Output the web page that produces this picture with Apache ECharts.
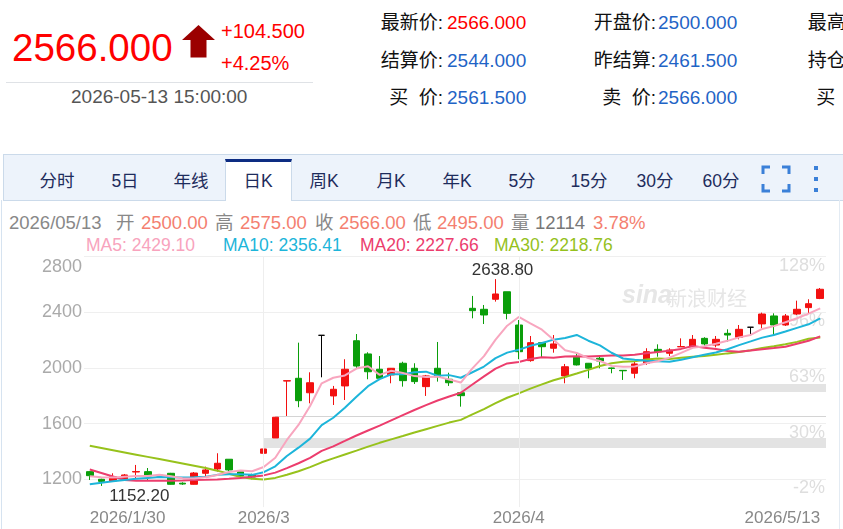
<!DOCTYPE html>
<html><head><meta charset="utf-8">
<script src="https://cdn.jsdelivr.net/npm/echarts@6/dist/echarts.min.js"></script>
<style>
html,body{margin:0;padding:0;background:#fff;}
body{width:843px;height:529px;overflow:hidden;position:relative;font-family:"Liberation Sans",Arial,"Noto Sans CJK SC",sans-serif;}
.a{position:absolute;white-space:pre;}
.lbl{position:absolute;white-space:pre;text-align:right;color:#111;font-size:19px;line-height:19px;}
.val{position:absolute;white-space:pre;color:#1f64c6;font-size:19px;line-height:19px;}
.tab{position:absolute;width:70px;text-align:center;font-size:17.5px;line-height:18px;top:172px;color:#1e2c5c;}
.inf{position:absolute;white-space:pre;font-size:18.5px;line-height:19px;top:212.5px;color:#888;}
.inf.n{color:#f47f70;}
.ma{position:absolute;white-space:pre;font-size:17.5px;line-height:18px;top:236px;}
#chart{position:absolute;left:0;top:0;width:843px;height:529px;}
</style></head><body>
<div class="a" style="left:12px;top:27.5px;font-size:38.5px;line-height:39px;color:#f00;">2566.000</div>
<svg class="a" style="left:182px;top:25px" width="34" height="34"><polygon points="16.5,0 33,15 24.5,15 24.5,32.5 8.5,32.5 8.5,15 0,15" fill="#9b0000"/></svg>
<div class="a" style="left:221px;top:21px;font-size:20px;line-height:20px;color:#f00;">+104.500</div>
<div class="a" style="left:221px;top:53px;font-size:20px;line-height:20px;color:#f00;">+4.25%</div>
<div class="a" style="left:6px;top:82px;width:307px;height:1px;background:#dfe2e6;"></div>
<div class="a" style="left:71px;top:87px;font-size:19px;line-height:19px;color:#555;">2026-05-13 15:00:00</div>

<div class="lbl" style="left:330px;width:113px;top:13px;">最新价:</div>
<div class="val" style="left:447px;top:13px;color:#f00;">2566.000</div>
<div class="lbl" style="left:330px;width:113px;top:51px;">结算价:</div>
<div class="val" style="left:447px;top:51px;">2544.000</div>
<div class="lbl" style="left:330px;width:113px;top:88px;">买  价:</div>
<div class="val" style="left:447px;top:88px;">2561.500</div>
<div class="lbl" style="left:540px;width:116px;top:13px;">开盘价:</div>
<div class="val" style="left:658px;top:13px;">2500.000</div>
<div class="lbl" style="left:540px;width:116px;top:51px;">昨结算:</div>
<div class="val" style="left:658px;top:51px;">2461.500</div>
<div class="lbl" style="left:540px;width:116px;top:88px;">卖  价:</div>
<div class="val" style="left:658px;top:88px;">2566.000</div>
<div class="lbl" style="left:760px;width:110px;top:13px;">最高价:</div>
<div class="lbl" style="left:760px;width:110px;top:51px;">持仓量:</div>
<div class="lbl" style="left:760px;width:110px;top:88px;">买  量:</div>

<div class="a" style="left:3px;top:154px;width:860px;height:45px;background:#edf3fb;border:1px solid #cbdaea;"></div>
<div class="a" style="left:225px;top:159px;width:65px;height:39px;background:#fff;border-top:3px solid #0d2c82;border-left:1px solid #cbdaea;border-right:1px solid #cbdaea;"></div>
<div id="tabs"></div>
<svg class="a" style="left:761px;top:165px" width="30" height="28"><g fill="none" stroke="#3b80d8" stroke-width="3"><path d="M2 9V2H9"/><path d="M21 2H28V9"/><path d="M28 19V26H21"/><path d="M9 26H2V19"/></g></svg>
<svg class="a" style="left:813px;top:165px" width="8" height="28"><g fill="#3b80d8"><rect x="1" y="1" width="4" height="4"/><rect x="1" y="12" width="4" height="4"/><rect x="1" y="23" width="4" height="4"/></g></svg>
<div class="a" style="left:1px;top:200px;width:1px;height:329px;background:#d6e3f0;"></div>
<div class="a" style="left:839px;top:200px;width:1px;height:329px;background:#e3ebf3;"></div>

<div class="inf" style="left:9px;">2026/05/13</div>
<div class="inf" style="left:116px;">开</div>
<div class="inf n" style="left:141px;">2500.00</div>
<div class="inf" style="left:215px;">高</div>
<div class="inf n" style="left:240px;">2575.00</div>
<div class="inf" style="left:315px;">收</div>
<div class="inf n" style="left:339px;">2566.00</div>
<div class="inf" style="left:413px;">低</div>
<div class="inf n" style="left:437px;">2495.00</div>
<div class="inf" style="left:511px;">量</div>
<div class="inf" style="left:535px;color:#777;">12114</div>
<div class="inf n" style="left:593px;">3.78%</div>

<div class="ma" style="left:86px;color:#f8a3bd;">MA5: 2429.10</div>
<div class="ma" style="left:223px;color:#1db5da;">MA10: 2356.41</div>
<div class="ma" style="left:360px;color:#ec3d6d;">MA20: 2227.66</div>
<div class="ma" style="left:494px;color:#95c11d;">MA30: 2218.76</div>

<div id="chart"></div>
<script>
const tabNames = ['分时','5日','年线','日K','周K','月K','年K','5分','15分','30分','60分'];
const tabCenters = [57,125,191,258,324,391,457,522,589,655,721];

const dates = ['2026/1/30',
'2026/2/2','2026/2/3','2026/2/4','2026/2/5','2026/2/6','2026/2/9','2026/2/10','2026/2/11','2026/2/12','2026/2/13','2026/2/24','2026/2/25','2026/2/26','2026/2/27',
'2026/3/2','2026/3/3','2026/3/4','2026/3/5','2026/3/6','2026/3/9','2026/3/10','2026/3/11','2026/3/12','2026/3/13','2026/3/16','2026/3/17','2026/3/18','2026/3/19','2026/3/20','2026/3/23','2026/3/24','2026/3/25','2026/3/26','2026/3/27','2026/3/30','2026/3/31',
'2026/4/1','2026/4/2','2026/4/3','2026/4/7','2026/4/8','2026/4/9','2026/4/10','2026/4/13','2026/4/14','2026/4/15','2026/4/16','2026/4/17','2026/4/20','2026/4/21','2026/4/22','2026/4/23','2026/4/24','2026/4/27','2026/4/28','2026/4/29','2026/4/30',
'2026/5/6','2026/5/7','2026/5/8','2026/5/11','2026/5/12','2026/5/13'];

const opens = [1255,1200,1188,1195,1252,1255,1224,1243,1172,1164,1243,1274,1344,1255,1231,
1387,1497,1906,1926,1822,2235,1799,1871,2196,2101,1991,1950,2034,1998,1866,1998,1919,1822,2429,2422,2494,2548,
2309,2053,2182,2142,1943,2077,2034,2070,2000,1983,1962,2034,2134,2106,2152,2153,2213,2165,2249,2221,2293,
2317,2374,2309,2388,2434,2500];
const closes = [1226,1185,1219,1231,1256,1224,1230,1164,1166,1245,1267,1315,1267,1224,1216,
1418,1646,1909,1765,1894,2235,1847,1991,2014,1973,1926,1998,1909,1902,1943,1937,1894,1801,2412,2381,2532,2393,
2117,2182,2153,2173,2009,2022,1998,2050,1997,1980,2029,2117,2117,2129,2154,2206,2173,2206,2237,2278,2293,
2388,2309,2374,2422,2462,2566];
const lows = [1195,1152.2,1183,1190,1205,1195,1218,1162,1160,1162,1219,1255,1255,1219,1200,
1334,1497,1655,1718,1746,1933,1734,1770,1998,1919,1919,1890,1866,1885,1799,1902,1871,1722,2357,2316,2477,2350,
2063,2045,2077,2110,1890,2018,1926,1998,1962,1914,1926,2022,2081,2086,2152,2153,2158,2149,2189,2206,2244,
2285,2230,2302,2381,2393,2495];
const highs = [1258,1204,1243,1238,1303,1281,1236,1246,1178,1252,1291,1387,1344,1258,1240,
1425,1648,1909,2182,1969,2235,1871,2063,2244,2113,2086,2000,2045,2034,1950,2187,1966,1828,2518,2453,2638.8,2548,
2345,2230,2185,2237,2029,2106,2036,2081,2002,1984,2045,2142,2170,2142,2213,2237,2221,2230,2278,2309,2293,
2398,2393,2388,2484,2494,2575];

const ma5 = [1222,1215,1212,1218,1223.4,1223,1232,1221,1208,1205.8,1214.4,1231.4,1252,1263.6,1257.8,1288,1354.2,1482.6,1590.8,1726.4,1889.8,1930,1946.4,1996.2,2012,1950.2,1980.4,1964,1941.6,1935.6,1937.8,1917,1895.4,1997.4,2085,2204,2303.8,2367,2321,2275.4,2203.6,2126.8,2107.8,2071,2050.4,2015.2,2009.4,2010.8,2034.6,2048,2074.4,2109.2,2144.6,2155.8,2173.6,2195.2,2220,2237.4,2280.4,2301,2328.4,2357.2,2391,2429.1];
const ma10 = [1165,1175,1185,1195,1203,1210,1216,1215,1213,1214.6,1218.7,1231.7,1236.5,1235.8,1231.8,1251.2,1292.8,1367.3,1427.2,1492.1,1588.9,1642.1,1714.5,1793.5,1869.2,1920,1955.2,1955.2,1968.9,1973.8,1944,1948.7,1929.7,1969.5,2010.3,2070.9,2110.4,2131.2,2159.2,2180.2,2203.8,2215.3,2237.4,2196,2162.9,2109.4,2068.1,2059.3,2052.8,2049.2,2044.8,2059.3,2077.7,2095.2,2110.8,2134.8,2164.6,2191,2218.1,2237.3,2261.8,2288.6,2314.2,2356.41];
const ma20 = [1270,1245,1220,1195,1190,1190,1190,1190,1192,1195,1196,1198,1203,1210,1218,1228,1248,1280,1315,1353.4,1403.8,1436.9,1475.5,1514.7,1550.5,1585.6,1624,1661.3,1698.1,1733,1766.5,1795.4,1822.1,1881.5,1939.8,1995.5,2032.8,2043.2,2064.1,2077,2073.9,2082,2083.6,2082.8,2086.6,2090.2,2089.3,2095.3,2106,2114.7,2124.3,2137.3,2157.6,2145.6,2136.9,2122.1,2116.4,2125.2,2135.5,2143.3,2153.3,2174,2196,2227.66];
const ma30 = [1441,1425,1409,1393,1377,1361,1345,1329,1313,1297,1281,1262,1240,1216,1204,1199,1210,1232,1258,1287,1322,1350,1378,1406,1435,1462,1487,1511,1536,1560.2,1583.9,1607.5,1626.9,1666.3,1703.8,1747.4,1786.1,1817.9,1851.8,1882,1912.2,1935.4,1960.5,1986.3,2014.1,2033.4,2044.6,2048.6,2060.3,2067.7,2064.2,2074.4,2081.6,2086.9,2094.7,2105,2114.4,2127.2,2143.4,2155.6,2170.1,2187.7,2209.8,2218.76];

const yTicks = [1200,1600,2000,2400,2800];
const pctLabels = ['-2%','30%','63%','96%','128%'];
const xTickIdx = [0,15,37,63];
const xTickText = ['2026/1/30','2026/3','2026/4','2026/5/13'];
const vGridIdx = [15,37];
// gap zones: [start index, low, high]
const gaps = [[15,1425,1497],[32,1828,1885],[16,1648,1655]];

const tabsEl = document.getElementById('tabs');
tabNames.forEach((t,i)=>{
  const d = document.createElement('div');
  d.className='tab'; d.textContent=t;
  d.style.left = (tabCenters[i]-35)+'px';
  tabsEl.appendChild(d);
});

const kdata = dates.map((d,i)=>[opens[i],closes[i],lows[i],highs[i]]);
const UP='#f21010', DOWN='#0a9e0a';
const chart = echarts.init(document.getElementById('chart'), null, {renderer:'canvas'});
const maLine = (name,data,color)=>({name,type:'line',data,symbol:'none',showSymbol:false,
  lineStyle:{width:2,color},itemStyle:{color},z:3,silent:true});
chart.setOption({
  animation:false,
  textStyle:{fontFamily:'"Liberation Sans", Arial, sans-serif'},
  grid:{left:84,right:17,top:256.7,bottom:21.9,containLabel:false},
  graphic:[
    {type:'text',left:622,top:284,z:0,style:{text:'sina',font:'italic bold 25px "Liberation Sans"',fill:'#e6e6e6'}},
    {type:'text',left:667,top:288,z:0,style:{text:'新浪财经',font:'20px "Noto Sans CJK SC"',fill:'#e6e6e6'}}
  ],
  xAxis:{type:'category',data:dates,boundaryGap:true,
    axisLine:{show:false},axisTick:{show:false},splitLine:{show:false},
    axisLabel:{interval:(i)=>xTickIdx.indexOf(i)>=0,
      formatter:(v,i)=>xTickText[xTickIdx.indexOf(i)],
      color:'#888',fontSize:17,margin:3,alignMinLabel:'left',alignMaxLabel:'right'}},
  yAxis:[
    {type:'value',min:1000,max:2800,position:'left',scale:false,
     axisLine:{show:false},axisTick:{show:false,customValues:yTicks},
     splitLine:{show:true,lineStyle:{color:'#efefef',width:1}},
     axisLabel:{customValues:yTicks,color:'#aaa',fontSize:18,margin:2,
       formatter:(v)=> v===yTicks[yTicks.length-1] ? '{t|'+v+'}' : String(v),
       rich:{t:{padding:[20,0,0,0],fontSize:18,color:'#aaa'}}}},
    {type:'value',min:1000,max:2800,position:'right',
     axisLine:{show:false},axisTick:{show:false,customValues:yTicks},splitLine:{show:false},
     axisLabel:{customValues:yTicks,inside:true,margin:1,verticalAlign:'top',color:'#dedede',fontSize:18,
       formatter:(v)=>pctLabels[yTicks.indexOf(v)]}}
  ],
  series:[
    {name:'K',type:'candlestick',data:kdata,barWidth:7,z:2,
     itemStyle:{color:UP,color0:DOWN,borderColor:UP,borderColor0:DOWN,borderColorDoji:'#000',borderWidth:1},
     markArea:{silent:true,itemStyle:{color:'#e3e3e3'},
       data:gaps.map(g=>[{xAxis:dates[g[0]],yAxis:g[1],itemStyle:{color:(g[2]-g[1]<20)?'#d4d4d4':'#e3e3e3'}},{yAxis:g[2]}])},
     markLine:{silent:true,symbol:['none','none'],label:{show:false},
       lineStyle:{color:'#eeeeee',type:'solid',width:1},
       data:vGridIdx.map(i=>({xAxis:dates[i]}))},
     markPoint:{symbol:'circle',symbolSize:0,
       data:[
        {type:'max',valueDim:'highest',label:{show:true,position:'inside',offset:[7,-9],color:'#333',fontSize:17,formatter:(p)=>Number(p.value).toFixed(2)}},
        {type:'min',valueDim:'lowest',label:{show:true,position:'inside',offset:[38,10],color:'#333',fontSize:17,formatter:(p)=>Number(p.value).toFixed(2)}}
       ]}},
    maLine('MA30',ma30,'#97c21c'),
    maLine('MA20',ma20,'#ec3d6d'),
    maLine('MA10',ma10,'#1db5da'),
    maLine('MA5',ma5,'#f8a6bf')
  ]
});
</script>
</body></html>
